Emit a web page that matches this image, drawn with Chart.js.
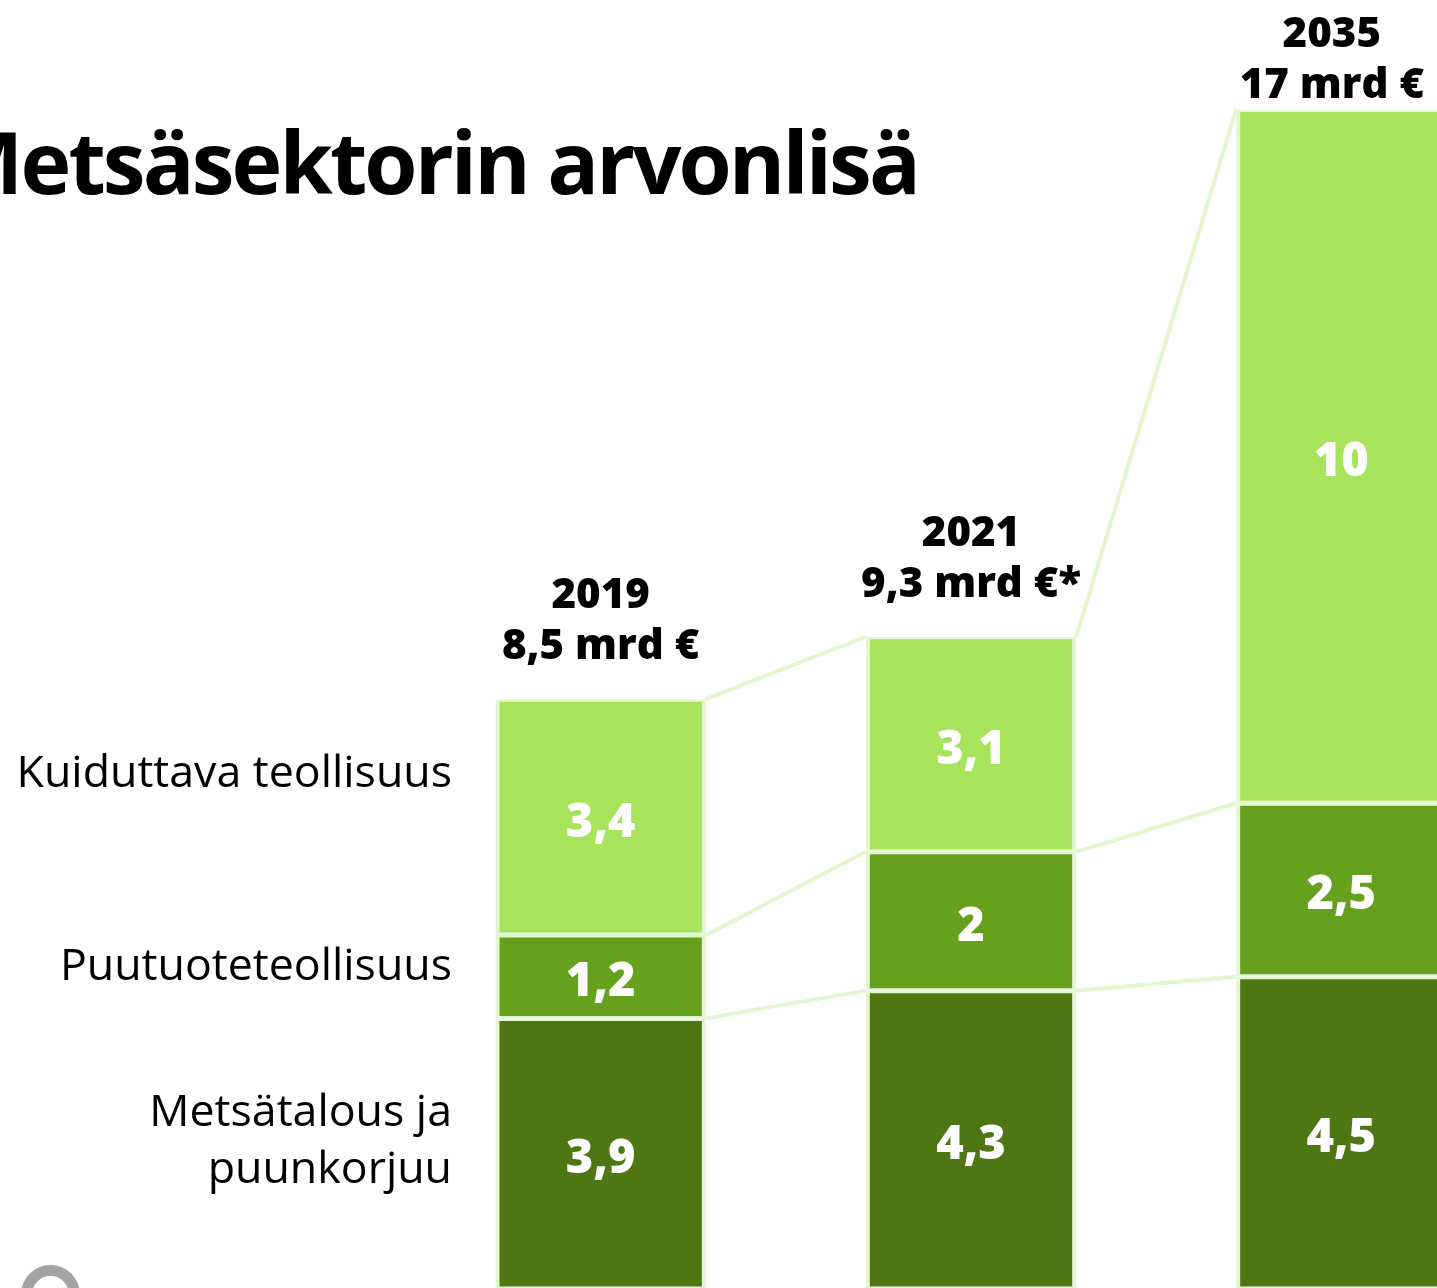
<!DOCTYPE html>
<html lang="fi">
<head>
<meta charset="utf-8">
<title>Metsäsektorin arvonlisä</title>
<script src="https://cdn.jsdelivr.net/npm/chart.js@4.4.1/dist/chart.umd.min.js"></script>
<style>
  html, body { margin: 0; padding: 0; background: #fff; overflow: hidden; width: 1437px; height: 1288px; }
  #wrap { position: absolute; left: 0; top: 0; width: 1540px; height: 1300px; }
  .title {
    position: absolute; right: 519px; top: 118px; white-space: nowrap;
    font-family: 'Open Sans', 'Noto Sans', sans-serif; font-weight: 700; font-size: 86px;
    letter-spacing: -2.9px; color: #000; line-height: 1;
  }
  .series {
    position: absolute; right: 985px; text-align: right; white-space: nowrap;
    font-family: 'Open Sans', 'Noto Sans', sans-serif; font-weight: 400; font-size: 44.7px;
    color: #000; line-height: 57px;
  }
  .logo {
    position: absolute; left: 21px; top: 1265px; width: 37px; height: 37px;
    border: 11px solid #a3a3a3; border-radius: 50%;
  }
</style>
</head>
<body>
<div id="wrap"><canvas id="chart" width="1540" height="1300"></canvas></div>
<div class="title">Metsäsektorin arvonlisä</div>
<div class="series" style="top:741px">Kuiduttava teollisuus</div>
<div class="series" style="top:934px">Puutuoteteollisuus</div>
<div class="series" style="top:1080px">Metsätalous ja<br>puunkorjuu</div>
<div class="logo"></div>
<script>
'use strict';

/* ---- Data ---- */
const YEARS        = ['2019', '2021', '2035'];
const TOTALS       = ['8,5 mrd €', '9,3 mrd €*', '17 mrd €'];
const SERIES       = ['Metsätalous ja puunkorjuu', 'Puutuoteteollisuus', 'Kuiduttava teollisuus'];
const METSATALOUS  = [3.9, 4.3, 4.5];
const PUUTUOTE     = [1.2, 2, 2.5];
const KUIDUTTAVA   = [3.4, 3.1, 10];

const COLORS = {
  dark:   '#4e7714',
  mid:    '#66a11d',
  light:  '#a8e35c',
  edge:   '#e2f6d0',
};

const FONT = "'Open Sans', 'Noto Sans', sans-serif";

function fmt(v) {
  return String(v).replace('.', ',');
}

/* ---- Connector lines between bars ---- */
const connectors = {
  id: 'connectors',
  afterDatasetsDraw(chart) {
    const ctx = chart.ctx;
    ctx.save();
    ctx.strokeStyle = COLORS.edge;
    ctx.lineWidth = 4;
    chart.data.datasets.forEach((ds, i) => {
      const bars = chart.getDatasetMeta(i).data;
      for (let j = 0; j < bars.length - 1; j++) {
        const a = bars[j], b = bars[j + 1];
        ctx.beginPath();
        ctx.moveTo(a.x + a.width / 2, a.y);
        ctx.lineTo(b.x - b.width / 2, b.y);
        ctx.stroke();
      }
    });
    ctx.restore();
  }
};

/* ---- Values inside segments + totals above ---- */
const labels = {
  id: 'labels',
  afterDraw(chart) {
    const ctx = chart.ctx;
    ctx.save();
    ctx.textAlign = 'center';
    ctx.textBaseline = 'middle';
    ctx.fillStyle = '#fff';
    ctx.font = `800 47px ${FONT}`;
    chart.data.datasets.forEach((ds, i) => {
      chart.getDatasetMeta(i).data.forEach((bar, j) => {
        const mid = (bar.y + bar.base) / 2;
        ctx.fillText(fmt(ds.data[j]), bar.x, mid + 6);
      });
    });

    // year + total above each stack, kept inside the visible slide
    const last = chart.data.datasets.length - 1;
    ctx.fillStyle = '#000';
    ctx.font = `800 42px ${FONT}`;
    chart.getDatasetMeta(last).data.forEach((bar, j) => {
      const y2 = Math.max(bar.y - 52, 86);
      const w = Math.max(ctx.measureText(YEARS[j]).width, ctx.measureText(TOTALS[j]).width);
      const x = Math.min(bar.x, 1424 - w / 2);
      ctx.fillText(YEARS[j], x, y2 - 51);
      ctx.fillText(TOTALS[j], x, y2);
    });
    ctx.restore();
  }
};

function segment(label, data, color) {
  return {
    label,
    data,
    backgroundColor: color,
    borderColor: COLORS.edge,
    borderWidth: { top: 2.5, bottom: 2.5, left: 4, right: 4 },
    borderSkipped: false,
    categoryPercentage: 1,
    barPercentage: 0.568,
  };
}

new Chart(document.getElementById('chart'), {
  type: 'bar',
  data: {
    labels: YEARS,
    datasets: [
      segment(SERIES[0], METSATALOUS, COLORS.dark),
      segment(SERIES[1], PUUTUOTE, COLORS.mid),
      segment(SERIES[2], KUIDUTTAVA, COLORS.light),
    ]
  },
  options: {
    responsive: false,
    animation: false,
    layout: { padding: { left: 415.5, right: 13.5, top: 40, bottom: 11 } },
    plugins: { legend: { display: false }, tooltip: { enabled: false } },
    scales: {
      x: { stacked: true, display: false },
      y: { stacked: true, display: false, min: 0, max: 18 }
    }
  },
  plugins: [connectors, labels]
});
</script>
</body>
</html>
